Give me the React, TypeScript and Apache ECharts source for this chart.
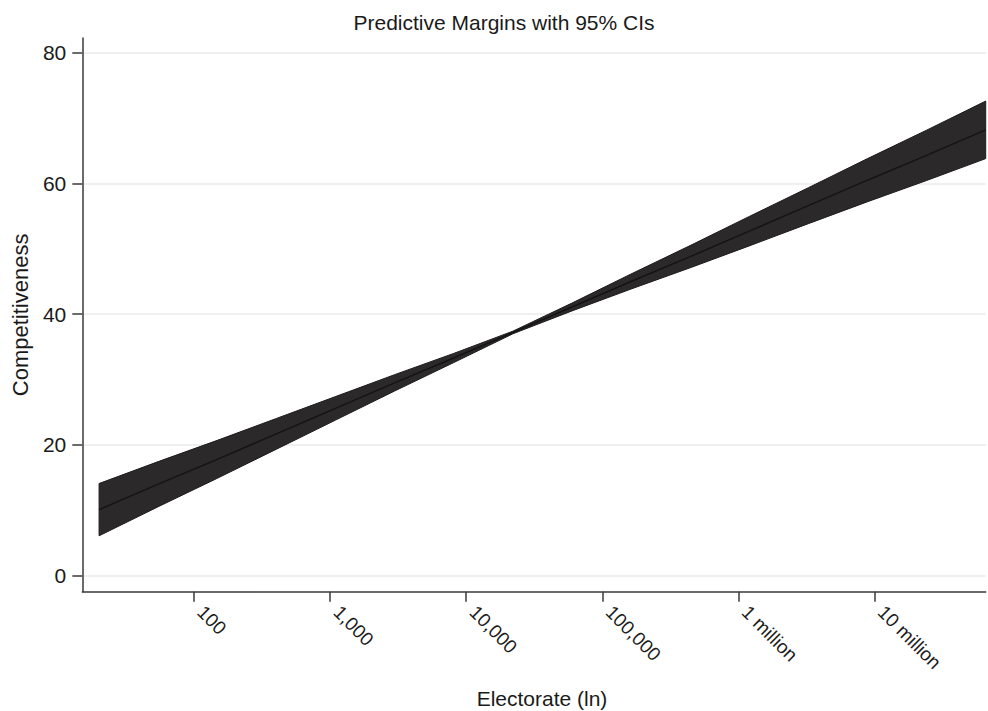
import React, { useEffect, useRef } from "react";
import * as echarts from "echarts";

// Evaluation points: ln(electorate)
const lnElectorate = [3, 4, 5, 6, 7, 8, 9, 10, 11, 12, 13, 14, 15, 16, 17, 18];
// Predicted competitiveness and 95% CI bounds
const predicted = [10.1, 14.0, 17.8, 21.7, 25.6, 29.5, 33.3, 37.2, 41.1, 45.0, 48.8, 52.7, 56.6, 60.5, 64.3, 68.2];
const ciLower = [6.1, 10.55, 14.9, 19.35, 23.8, 28.25, 32.6, 37.0, 40.5, 43.85, 47.1, 50.45, 53.85, 57.2, 60.45, 63.8];
const ciUpper = [14.1, 17.45, 20.7, 24.05, 27.4, 30.75, 34.0, 37.4, 41.7, 46.15, 50.5, 54.95, 59.35, 63.8, 68.15, 72.6];

// Tick labels (electorate on the original scale)
const xTickValues = [100, 1000, 10000, 100000, 1000000, 10000000];
const xTickLabels = ["100", "1,000", "10,000", "100,000", "1 million", "10 million"];
const yTickValues = [0, 20, 40, 60, 80];

const FONT = "Liberation Sans, Arial, Helvetica, sans-serif";
const AXIS_COLOR = "#3a3a3a";
const TEXT_COLOR = "#1a1a1a";

export default function App() {
  const ref = useRef<HTMLDivElement>(null);

  useEffect(() => {
    if (!ref.current) return;
    const chart = echarts.init(ref.current, undefined, { renderer: "svg" });
    const xTicksLn = xTickValues.map((v) => Math.log(v));
    const labelFor = (v: number) => {
      let best = 0;
      for (let i = 0; i < xTicksLn.length; i++) {
        if (Math.abs(xTicksLn[i] - v) < Math.abs(xTicksLn[best] - v)) best = i;
      }
      return xTickLabels[best];
    };

    chart.setOption({
      animation: false,
      backgroundColor: "#ffffff",
      grid: { left: 82.3, right: 2.3, top: 38, bottom: 119.3, outerBoundsMode: "none", containLabel: false },
      graphic: [
        {
          type: "text",
          x: 504,
          y: 22,
          style: {
            text: "Predictive Margins with 95% CIs",
            textAlign: "center",
            textVerticalAlign: "middle",
            fontFamily: FONT,
            fontSize: 21,
            fill: TEXT_COLOR,
          },
        },
      ],
      xAxis: {
        type: "value",
        min: 2.716,
        max: 18,
        name: "Electorate (ln)",
        nameLocation: "middle",
        nameGap: 96,
        nameTextStyle: { fontFamily: FONT, fontSize: 21, color: TEXT_COLOR, padding: [0, 0, 0, 16] },
        axisLine: { show: true, onZero: false, lineStyle: { color: AXIS_COLOR, width: 1.5 } },
        axisTick: { show: true, length: 10, customValues: xTicksLn, lineStyle: { color: AXIS_COLOR, width: 1.5 } },
        axisLabel: {
          customValues: xTicksLn,
          rotate: -45,
          margin: 24,
          verticalAlign: "bottom",
          fontFamily: FONT,
          fontSize: 19,
          color: TEXT_COLOR,
          formatter: (v: number) => labelFor(v),
        },
        splitLine: { show: false },
      },
      yAxis: {
        type: "value",
        min: -2.45,
        max: 82.25,
        name: "Competitiveness",
        nameLocation: "middle",
        nameGap: 51,
        nameRotate: 90,
        nameTextStyle: { fontFamily: FONT, fontSize: 22, color: TEXT_COLOR },
        axisLine: { show: true, onZero: false, lineStyle: { color: AXIS_COLOR, width: 1.5 } },
        axisTick: { show: true, length: 10, customValues: yTickValues, lineStyle: { color: AXIS_COLOR, width: 1.5 } },
        axisLabel: {
          customValues: yTickValues,
          margin: 16,
          fontFamily: FONT,
          fontSize: 21,
          color: TEXT_COLOR,
        },
        splitLine: { show: true, customValues: yTickValues, lineStyle: { color: "#ebebeb", width: 1.5 } },
      },
      series: [
        {
          type: "custom",
          name: "95% CI",
          data: lnElectorate.map((x, i) => [x, ciLower[i], ciUpper[i]]),
          encode: { x: 0, y: [1, 2] },
          renderItem: (params: any, api: any) => {
            if (params.dataIndex !== 0) return null;
            const pts: number[][] = [];
            for (let i = 0; i < lnElectorate.length; i++) pts.push(api.coord([lnElectorate[i], ciUpper[i]]));
            for (let i = lnElectorate.length - 1; i >= 0; i--) pts.push(api.coord([lnElectorate[i], ciLower[i]]));
            return {
              type: "polygon",
              shape: { points: pts },
              style: { fill: "#2c292a", stroke: "#1c1a1b", lineWidth: 1 },
            };
          },
          z: 2,
        },
        {
          type: "line",
          name: "Predicted",
          data: lnElectorate.map((x, i) => [x, predicted[i]]),
          symbol: "none",
          lineStyle: { color: "#151314", width: 1.5 },
          z: 3,
        },
      ],
    });
    return () => chart.dispose();
  }, []);

  return (
    <div
      ref={ref}
      style={{ position: "fixed", left: 0, top: 0, width: 988, height: 711, background: "#fff" }}
    />
  );
}
